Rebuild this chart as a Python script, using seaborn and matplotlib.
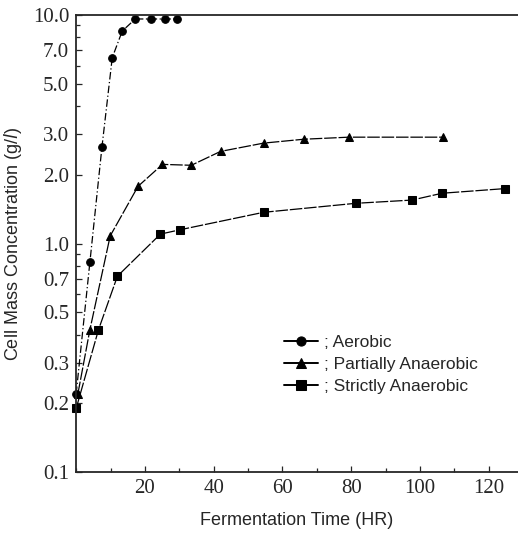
import numpy as np
import pandas as pd
import matplotlib
matplotlib.use("Agg")
import matplotlib.pyplot as plt
import seaborn as sns
from matplotlib.ticker import FixedLocator, MultipleLocator, NullFormatter

# Data (time in HR, cell mass in g/l)
aerobic_t = [0, 4, 7.5, 10.5, 13.4, 17.2, 21.9, 25.7, 29.4]
aerobic_y = [0.22, 0.83, 2.64, 6.5, 8.5, 9.6, 9.6, 9.6, 9.6]

partial_t = [0.5, 4, 9.9, 18, 25.1, 33.5, 42, 54.5, 66.2, 79.3, 106.7]
partial_y = [0.22, 0.42, 1.08, 1.78, 2.22, 2.2, 2.53, 2.75, 2.86, 2.92, 2.92]

strict_t = [0, 6.5, 12, 24.5, 30.3, 54.5, 81.3, 97.7, 106.4, 124.8]
strict_y = [0.19, 0.42, 0.72, 1.1, 1.15, 1.37, 1.5, 1.55, 1.66, 1.74]

series_labels = ["; Aerobic", "; Partially Anaerobic", "; Strictly Anaerobic"]
series_markers = ["o", "^", "s"]

y_ticks = [0.1, 0.2, 0.3, 0.5, 0.7, 1.0, 2.0, 3.0, 5.0, 7.0, 10.0]
y_tick_labels = ["0.1", "0.2", "0.3", "0.5", "0.7", "1.0", "2.0", "3.0", "5.0", "7.0", "10.0"]
x_ticks = [20, 40, 60, 80, 100, 120]


def make_plot():
    sns.set_style("ticks")
    plt.rcParams["font.family"] = ["Liberation Sans", "DejaVu Sans"]

    fig = plt.figure(figsize=(5.18, 5.33), dpi=100)
    ax = fig.add_axes([0.147, 0.114, 0.853, 0.858])

    data = [(aerobic_t, aerobic_y), (partial_t, partial_y), (strict_t, strict_y)]
    dashes = [(6, 2, 1, 2), (10, 1.5), (10, 1.5)]
    for (t, y), lab, mk, ds in zip(data, series_labels, series_markers, dashes):
        df = pd.DataFrame({"t": t, "y": y})
        sns.lineplot(data=df, x="t", y="y", ax=ax, color="black", lw=0.9,
                     marker=mk, markersize=5.5, markeredgecolor="black",
                     markerfacecolor="black", label=lab, clip_on=False,
                     dashes=False, linestyle=(0, ds), sort=False)

    ax.set_yscale("log")
    ax.set_ylim(0.1, 10.0)
    ax.set_xlim(0, 128.5)
    ax.yaxis.set_major_locator(FixedLocator(y_ticks))
    ax.set_yticklabels(y_tick_labels)
    ax.yaxis.set_minor_locator(FixedLocator([0.4, 0.6, 0.8, 0.9, 4.0, 6.0, 8.0, 9.0]))
    ax.yaxis.set_minor_formatter(NullFormatter())
    ax.set_xticks(x_ticks)
    ax.xaxis.set_minor_locator(MultipleLocator(10))

    ax.tick_params(which="both", direction="in", length=4, width=0.9,
                   labelsize=15, pad=5)
    ax.tick_params(which="minor", length=3)
    for lbl in ax.get_xticklabels() + ax.get_yticklabels():
        lbl.set_fontfamily("Liberation Serif")

    ax.spines["right"].set_visible(False)
    for s in ["left", "bottom", "top"]:
        ax.spines[s].set_linewidth(1.3)

    ax.set_xlabel("Fermentation Time (HR)", fontsize=13, labelpad=10)
    ax.set_ylabel(r"Cell Mass Concentration (g/$\it{l}$)", fontsize=13, labelpad=6)

    leg = ax.legend(loc="upper left", bbox_to_anchor=(0.45, 0.32), frameon=False,
                    fontsize=12.5, handlelength=2.0, handletextpad=0.3,
                    labelspacing=0.4, borderpad=0, markerscale=1.2)
    # legend keys are drawn solid in the original
    for h in leg.legend_handles:
        h.set_linestyle("-")
        h.set_linewidth(1.4)

    fig.savefig("out.png", dpi=100)


if __name__ == "__main__":
    make_plot()
